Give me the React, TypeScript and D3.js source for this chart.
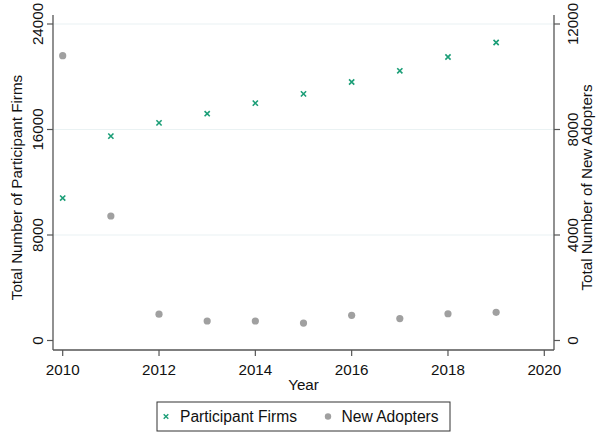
import React from "react";
import * as d3 from "d3";

const years = [2010, 2011, 2012, 2013, 2014, 2015, 2016, 2017, 2018, 2019];
const participantFirms = [10800, 15500, 16500, 17200, 18000, 18700, 19600, 20450, 21500, 22600];
const newAdopters = [10800, 4720, 1000, 740, 740, 660, 955, 830, 1015, 1070];
const xTicks = [2010, 2012, 2014, 2016, 2018, 2020];
const leftTicks = [0, 8000, 16000, 24000];
const rightTicks = [0, 4000, 8000, 12000];

const W = 598;
const H = 433;
const GREEN = "#1b9e77";
const GRAY = "#a0a0a0";
const AXIS = "#555";
const FONT = "Liberation Sans, Arial, sans-serif";

export default function App() {
  const x = d3.scaleLinear().domain([2010, 2020]).range([62.7, 544.3]);
  const yL = d3.scaleLinear().domain([0, 24000]).range([340.5, 24]);
  const yR = d3.scaleLinear().domain([0, 12000]).range([340.5, 24]);
  const left = 53, right = 554, top = 15, bottom = 350;

  return (
    <svg width={W} height={H} style={{ position: "absolute", left: 0, top: 0, background: "#fff" }} fontFamily={FONT}>
      <rect x={0} y={0} width={W} height={H} fill="#fff" />
      {leftTicks.filter((t) => t > 0).map((t) => (
        <line key={"g" + t} x1={left} x2={right} y1={yL(t)} y2={yL(t)} stroke="#eaf2f3" strokeWidth={1.2} />
      ))}
      {/* axes */}
      <line x1={left} x2={left} y1={top} y2={bottom} stroke={AXIS} strokeWidth={1.3} />
      <line x1={right} x2={right} y1={top} y2={bottom} stroke={AXIS} strokeWidth={1.3} />
      <line x1={left} x2={right} y1={bottom} y2={bottom} stroke={AXIS} strokeWidth={1.3} />
      {leftTicks.map((t) => (
        <g key={"l" + t}>
          <line x1={left - 6} x2={left} y1={yL(t)} y2={yL(t)} stroke={AXIS} strokeWidth={1.2} />
          <text transform={`translate(43,${yL(t)}) rotate(-90)`} textAnchor="middle" fontSize={15.2} fill="#111">{t}</text>
        </g>
      ))}
      {rightTicks.map((t) => (
        <g key={"r" + t}>
          <line x1={right} x2={right + 6} y1={yR(t)} y2={yR(t)} stroke={AXIS} strokeWidth={1.2} />
          <text transform={`translate(578,${yR(t)}) rotate(-90)`} textAnchor="middle" fontSize={15.2} fill="#111">{t}</text>
        </g>
      ))}
      {xTicks.map((t) => (
        <g key={"x" + t}>
          <line x1={x(t)} x2={x(t)} y1={bottom} y2={bottom + 6} stroke={AXIS} strokeWidth={1.2} />
          <text x={x(t)} y={375} textAnchor="middle" fontSize={15.2} fill="#111">{t}</text>
        </g>
      ))}
      <text x={(left + right) / 2} y={390} textAnchor="middle" fontSize={15.2} fill="#111">Year</text>
      <text transform={`translate(22,${(top + bottom) / 2 + 5}) rotate(-90)`} textAnchor="middle" fontSize={15.2} fill="#111">Total Number of Participant Firms</text>
      <text transform={`translate(592,${(top + bottom) / 2 + 5}) rotate(-90)`} textAnchor="middle" fontSize={15.2} fill="#111">Total Number of New Adopters</text>
      {/* new adopters */}
      {years.map((yr, i) => (
        <circle key={"c" + yr} cx={x(yr)} cy={yR(newAdopters[i])} r={3.6} fill={GRAY} />
      ))}
      {/* participant firms */}
      {years.map((yr, i) => {
        const cx = x(yr), cy = yL(participantFirms[i]), s = 2.6;
        return (
          <path key={"p" + yr} d={`M${cx - s},${cy - s}L${cx + s},${cy + s}M${cx - s},${cy + s}L${cx + s},${cy - s}`} stroke={GREEN} strokeWidth={1.6} fill="none" />
        );
      })}
      {/* legend */}
      <rect x={157} y={402} width={293} height={29} fill="#fff" stroke="#333" strokeWidth={1} />
      <path d={`M${166 - 2.3},${416.5 - 2.3}L${166 + 2.3},${416.5 + 2.3}M${166 - 2.3},${416.5 + 2.3}L${166 + 2.3},${416.5 - 2.3}`} stroke={GREEN} strokeWidth={1.4} fill="none" />
      <text x={180} y={422} fontSize={15.6} fill="#111">Participant Firms</text>
      <circle cx={328} cy={416.5} r={3.2} fill={GRAY} />
      <text x={341.5} y={422} fontSize={15.6} fill="#111">New Adopters</text>
    </svg>
  );
}
